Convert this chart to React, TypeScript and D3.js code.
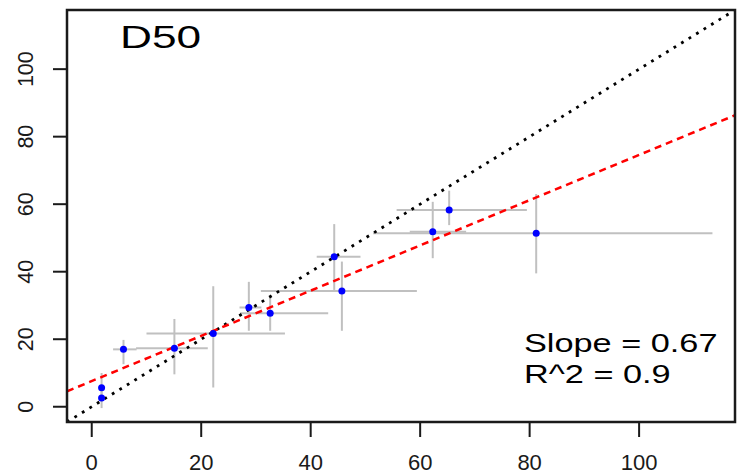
import React from "react";
import * as d3 from "d3";

const obsX = [1.8, 1.8, 5.8, 15.1, 22.2, 28.7, 32.6, 44.3, 45.7, 62.3, 65.3, 81.2];
const obsY = [5.6, 2.6, 17.0, 17.3, 21.7, 29.4, 27.7, 44.4, 34.3, 51.8, 58.3, 51.4];
const xLo = [1.3, 1.3, 3.9, 8.1, 10.0, 27.0, 27.1, 41.1, 30.9, 58.1, 55.7, 51.4];
const xHi = [2.3, 2.3, 8.2, 21.2, 35.3, 31.0, 43.2, 49.1, 59.4, 68.4, 79.5, 113.4];
const yLo = [1.5, -0.4, 12.6, 9.6, 5.7, 22.5, 22.5, 34.6, 22.5, 44.0, 53.8, 39.5];
const yHi = [10.0, 6.0, 19.8, 26.0, 35.7, 37.0, 32.6, 54.1, 43.0, 60.7, 64.0, 63.0];
const ticks = [0, 20, 40, 60, 80, 100];
const fitSlope = 0.67;
const fitIntercept = 7.6;
const domain: [number, number] = [-4.52, 117.52];

export default function App() {
  const W = 738, H = 475;
  const L = 67, R = 735, T = 10, B = 422;
  const x = d3.scaleLinear().domain(domain).range([L, R]);
  const y = d3.scaleLinear().domain(domain).range([B, T]);
  const font = "Liberation Sans, Arial, sans-serif";
  const line = d3.line<[number, number]>().x(d => x(d[0])).y(d => y(d[1]));
  const idLine: [number, number][] = [[domain[0], domain[0]], [domain[1], domain[1]]];
  const fitLine: [number, number][] = [
    [domain[0], fitIntercept + fitSlope * domain[0]],
    [domain[1], fitIntercept + fitSlope * domain[1]],
  ];
  const idx = d3.range(obsX.length);
  return (
    <svg width={W} height={H} style={{ position: "absolute", left: 0, top: 0, background: "#fff" }}>
      <defs>
        <clipPath id="plot">
          <rect x={L} y={T} width={R - L} height={B - T} />
        </clipPath>
      </defs>
      <g clipPath="url(#plot)">
        {idx.map(i => (
          <g key={"e" + i} stroke="#c0c0c0" strokeWidth={2}>
            <line x1={x(xLo[i])} x2={x(xHi[i])} y1={y(obsY[i])} y2={y(obsY[i])} />
            <line x1={x(obsX[i])} x2={x(obsX[i])} y1={y(yLo[i])} y2={y(yHi[i])} />
          </g>
        ))}
        <path d={line(idLine) || ""} stroke="#000" strokeWidth={2.8} strokeDasharray="2.8,6" fill="none" />
        <path d={line(fitLine) || ""} stroke="#ff0000" strokeWidth={2.5} strokeDasharray="7,5" fill="none" />
        {idx.map(i => (
          <circle key={"p" + i} cx={x(obsX[i])} cy={y(obsY[i])} r={3.5} fill="#0000ff" />
        ))}
      </g>
      <rect x={L} y={T} width={R - L} height={B - T} fill="none" stroke="#1a1a1a" strokeWidth={2.5} />
      {ticks.map(t => (
        <g key={"xt" + t}>
          <line x1={x(t)} x2={x(t)} y1={B} y2={B + 15} stroke="#1a1a1a" strokeWidth={2} />
          <text x={x(t)} y={470} textAnchor="middle" fontFamily={font} fontSize={22} fill="#1a1a1a">{t}</text>
        </g>
      ))}
      {ticks.map(t => (
        <g key={"yt" + t}>
          <line x1={L - 14} x2={L} y1={y(t)} y2={y(t)} stroke="#1a1a1a" strokeWidth={2} />
          <text transform={`translate(33,${y(t)}) rotate(-90)`} textAnchor="middle" fontFamily={font} fontSize={21.5} fill="#1a1a1a">{t}</text>
        </g>
      ))}
      <text transform="translate(120,48.3) scale(1.45,1)" fontFamily={font} fontSize={30.5} fill="#000">D50</text>
      <text transform="translate(524,352.3) scale(1.34,1)" fontFamily={font} fontSize={25.6} fill="#000">Slope = 0.67</text>
      <text transform="translate(524,383.3) scale(1.34,1)" fontFamily={font} fontSize={25.6} fill="#000">R^2 = 0.9</text>
    </svg>
  );
}
